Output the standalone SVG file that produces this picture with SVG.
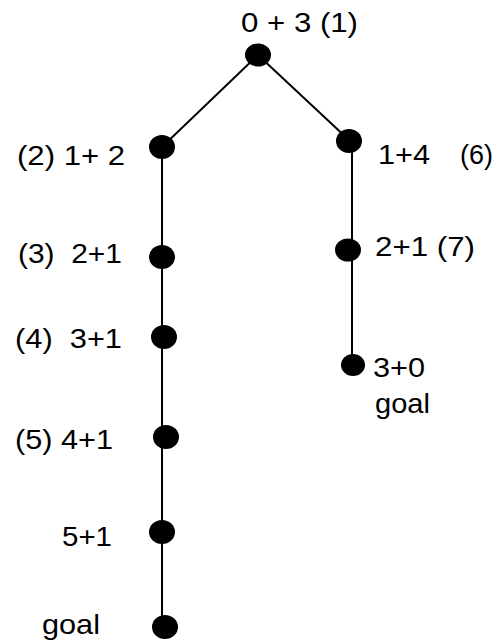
<svg xmlns="http://www.w3.org/2000/svg" width="500" height="642" viewBox="0 0 500 642">
<style>
.n{fill:#000}
.e{stroke:#000;stroke-width:2;fill:none}
text{font-family:"Liberation Sans",Arial,sans-serif;font-size:28px;fill:#000}
</style>
<rect width="500" height="642" fill="#fff"/>
<g id="connectors">
<line class="e" x1="258" y1="55" x2="162" y2="147"/>
<line class="e" x1="258" y1="55" x2="350" y2="141"/>
<line class="e" x1="162" y1="147" x2="162" y2="627"/>
<line class="e" x1="352" y1="141" x2="352" y2="365"/>
</g>
<g id="n1"><ellipse class="n" cx="258" cy="55" rx="13" ry="11.5"/><text x="241" y="32" textLength="117" lengthAdjust="spacingAndGlyphs">0 + 3 (1)</text></g>
<g id="n2"><ellipse class="n" cx="162" cy="147" rx="13" ry="12"/><text x="17" y="165" textLength="108" lengthAdjust="spacingAndGlyphs" xml:space="preserve">(2) 1+ 2</text></g>
<g id="n3"><ellipse class="n" cx="162" cy="257" rx="13" ry="12"/><text x="18" y="263" textLength="104" lengthAdjust="spacingAndGlyphs" xml:space="preserve">(3)  2+1</text></g>
<g id="n4"><ellipse class="n" cx="164" cy="337" rx="13" ry="12"/><text x="15" y="348" textLength="107" lengthAdjust="spacingAndGlyphs" xml:space="preserve">(4)  3+1</text></g>
<g id="n5"><ellipse class="n" cx="166" cy="437" rx="13" ry="12"/><text x="15" y="449" textLength="98" lengthAdjust="spacingAndGlyphs">(5) 4+1</text></g>
<g id="n5b"><ellipse class="n" cx="162" cy="532" rx="13" ry="12"/><text x="62" y="546" textLength="50" lengthAdjust="spacingAndGlyphs">5+1</text></g>
<g id="goal1"><ellipse class="n" cx="165" cy="627" rx="13" ry="12"/><text x="42" y="634" textLength="58" lengthAdjust="spacingAndGlyphs">goal</text></g>
<g id="n6"><ellipse class="n" cx="349" cy="141" rx="13" ry="12"/><text x="378" y="164" textLength="52" lengthAdjust="spacingAndGlyphs">1+4</text><text x="460" y="164" textLength="33" lengthAdjust="spacingAndGlyphs">(6)</text></g>
<g id="n7"><ellipse class="n" cx="348" cy="250" rx="13" ry="11.5"/><text x="375" y="256" textLength="100" lengthAdjust="spacingAndGlyphs">2+1 (7)</text></g>
<g id="n8"><ellipse class="n" cx="353" cy="365" rx="12" ry="11"/><text x="373" y="377" textLength="52" lengthAdjust="spacingAndGlyphs">3+0</text><text x="375" y="413" textLength="55" lengthAdjust="spacingAndGlyphs">goal</text></g>
</svg>
